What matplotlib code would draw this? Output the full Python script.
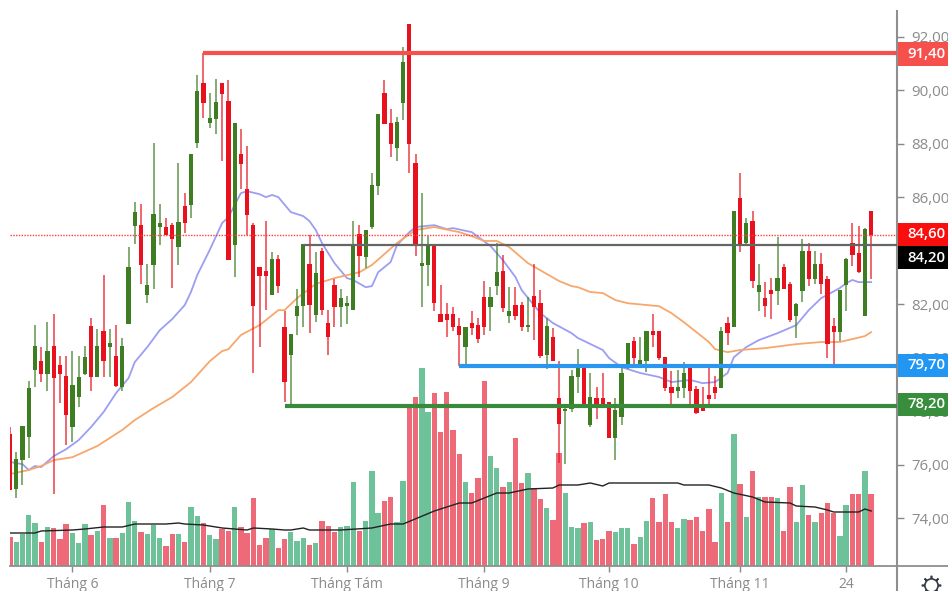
import matplotlib
matplotlib.use("Agg")
import matplotlib.pyplot as plt
from matplotlib.lines import Line2D
from matplotlib.patches import Rectangle
from matplotlib.ticker import FuncFormatter

highs = [77.41,76.47,77.45,79.13,81.22,80.40,81.33,81.63,80.06,80.06,
         80.25,80.06,80.44,81.48,81.07,83.09,81.07,81.22,80.74,84.14,
         85.82,85.75,83.50,88.03,85.75,85.22,85.04,87.28,86.16,87.62,
         90.57,91.40,89.90,90.42,90.27,90.39,88.78,88.55,87.92,85.04,
         83.39,85.11,83.95,83.84,81.75,80.89,82.57,84.25,84.59,83.95,
         84.10,81.78,82.94,82.57,82.31,85.11,84.96,84.78,86.91,89.12,
         90.39,89.30,89.00,91.62,92.48,87.62,86.16,84.55,84.25,82.72,
         82.04,81.90,81.48,81.15,81.75,81.48,82.87,82.64,84.29,83.84,
         82.64,82.64,82.08,82.27,83.50,82.53,81.48,81.11,79.87,78.23,
         79.54,80.32,79.65,79.43,78.90,79.43,78.34,78.49,79.65,80.55,
         80.77,80.77,81.00,81.63,81.00,80.02,79.50,79.54,79.84,79.65,
         78.94,78.90,79.73,79.31,81.15,81.52,85.49,86.91,85.22,85.49,
         83.50,82.83,82.98,84.51,83.50,82.83,82.04,84.44,84.29,83.99,
         83.92,83.05,81.48,82.53,83.73,85.04,84.93,84.85,85.49]
lows = [75.05,74.75,75.24,76.25,78.90,79.09,78.75,74.90,78.30,76.73,
        76.84,78.15,79.35,78.75,79.28,79.28,79.28,78.90,78.75,81.26,
        84.25,82.76,82.04,82.57,84.21,84.59,82.61,83.47,84.66,85.22,
        87.84,88.97,88.59,88.37,87.36,83.65,83.02,86.31,84.59,79.43,
        80.40,81.78,82.34,82.42,78.34,78.23,80.85,81.15,80.92,81.33,
        81.60,80.10,81.15,81.15,81.26,81.78,83.02,83.35,84.81,86.09,
        88.74,87.51,87.36,88.89,86.91,83.80,81.90,82.68,81.75,81.33,
        80.77,81.00,79.69,79.69,80.85,80.55,80.85,81.00,82.34,81.71,
        81.30,81.41,81.00,80.96,80.66,79.99,79.58,79.87,76.06,76.02,
        77.97,78.68,78.19,77.41,77.71,78.19,76.99,76.17,77.48,79.58,
        79.65,79.69,79.46,80.40,79.91,78.75,78.15,78.49,78.49,78.23,
        77.89,78.00,78.23,78.45,78.87,80.47,81.15,83.95,84.25,82.61,
        81.75,81.52,81.45,81.97,82.57,81.33,80.74,82.08,82.68,82.76,
        82.38,79.99,79.69,80.62,81.75,83.43,83.17,81.56,82.94]
opens = [77.14,75.09,76.17,77.03,79.54,79.87,79.39,80.44,79.73,79.31,
         77.41,78.53,79.39,81.18,79.28,81.00,80.40,80.06,78.90,81.26,
         84.93,84.96,82.34,83.47,84.89,84.89,84.96,84.14,85.67,85.71,
         88.03,90.27,88.78,88.93,90.27,89.60,84.21,87.62,86.31,84.96,
         83.39,83.24,82.34,83.69,81.15,80.10,81.56,81.93,83.50,81.60,
         83.99,81.30,82.72,81.90,81.93,81.78,84.63,83.77,84.89,86.42,
         89.90,88.78,87.84,89.53,92.48,87.28,83.43,83.47,84.25,81.63,
         81.63,81.63,81.18,80.40,81.30,81.22,82.27,81.90,82.68,83.24,
         81.56,81.97,81.97,81.15,82.31,82.04,80.10,80.77,78.49,78.00,
         78.08,79.28,79.65,77.48,78.49,78.49,78.34,76.99,77.78,79.61,
         80.62,79.76,79.87,81.00,81.00,80.02,78.90,78.75,78.87,79.65,
         78.83,78.23,78.60,78.90,78.87,81.30,81.15,85.97,84.29,85.11,
         82.46,82.23,82.53,82.49,83.39,82.76,81.56,82.49,83.99,82.94,
         83.50,82.94,81.18,80.96,82.72,84.29,83.92,81.56,85.49]
closes = [75.05,76.21,77.45,78.87,80.44,79.39,80.25,79.24,79.39,77.85,
          78.98,79.28,80.02,79.28,80.44,79.87,80.55,78.94,80.44,83.39,
          85.45,83.47,82.72,85.37,85.04,84.59,84.44,85.07,85.04,87.62,
          89.98,89.53,88.97,89.56,89.86,83.65,88.78,87.24,85.34,81.93,
          83.05,83.05,83.69,82.68,79.09,80.89,81.93,84.25,81.97,83.17,
          81.78,80.77,81.90,82.23,82.04,84.18,83.80,84.78,86.46,89.12,
          88.74,87.99,88.82,91.06,87.99,84.18,83.54,84.25,82.04,81.33,
          81.41,81.15,80.85,81.15,81.11,80.70,81.15,82.27,83.20,81.86,
          81.75,81.56,81.15,81.22,81.90,80.06,81.18,79.87,77.52,78.08,
          79.31,79.61,78.19,78.53,78.19,78.27,76.99,78.04,79.43,80.55,
          79.99,79.91,81.00,80.85,79.99,78.87,78.68,78.90,79.43,78.75,
          77.93,78.00,78.45,78.68,81.00,80.92,85.49,84.25,85.04,82.87,
          82.72,81.93,82.38,82.98,82.57,81.41,82.01,83.99,82.94,83.50,
          82.76,80.51,80.96,82.53,83.69,83.84,83.20,84.81,84.60]
volumes = [29,24,32,51,43,24,39,38,27,42,
           33,23,42,31,35,61,28,28,33,64,
           45,34,32,41,28,20,32,32,24,59,
           50,43,31,27,37,35,59,39,33,68,
           21,28,37,18,27,34,25,28,21,23,
           45,40,34,39,40,84,35,45,95,53,
           65,69,44,85,158,169,198,154,173,134,
           174,136,112,84,73,88,185,110,98,79,
           84,128,83,93,78,67,58,46,113,73,
           39,38,43,44,26,27,35,34,38,38,
           22,29,45,68,44,72,44,38,47,46,
           49,35,57,24,73,44,132,82,49,95,
           69,69,69,68,35,79,44,81,51,44,
           53,63,53,30,61,72,72,95,72]

ma_fast_idx = [0,2,3,4,5,7,9,11,13,15,17,19,20,22,24,26,28,29,30,32,34,35,37,38,40,41,42,43,45,47,48,49,50,52,54,55,57,58,59,61,62,64,65,68,70,71,74,77,79,81,82,85,87,90,91,95,96,98,101,104,106,109,111,113,115,116,118,120,123,126,128,130,133,134,135,136,138]
ma_fast = [76.10,76.02,75.80,75.95,75.91,76.32,76.58,76.92,77.41,77.97,78.68,79.24,79.84,80.40,81.03,81.45,81.97,82.46,83.09,84.03,85.04,85.26,86.16,86.23,86.12,86.01,86.09,86.01,85.45,85.30,85.11,84.78,84.29,83.54,82.98,82.91,82.64,82.68,83.20,83.58,84.21,84.70,84.89,84.96,84.81,84.85,84.70,84.18,83.65,83.02,82.53,81.67,81.30,80.92,80.74,80.29,79.99,79.65,79.43,79.28,79.09,79.17,79.05,79.09,79.43,80.02,80.40,80.66,80.92,81.22,81.78,82.23,82.61,82.79,82.91,82.83,82.83]
ma_slow_idx = [0,3,5,7,10,14,18,20,23,26,29,32,34,35,37,40,43,44,46,49,52,56,58,62,65,68,72,74,76,78,80,83,88,90,91,93,95,97,99,104,106,108,112,113,115,117,121,126,130,133,135,137,138]
ma_slow = [75.65,75.80,75.95,76.17,76.28,76.70,77.30,77.67,78.12,78.53,79.09,79.87,80.25,80.32,80.85,81.22,81.78,81.78,82.23,82.76,82.98,83.20,83.47,84.29,84.78,84.89,84.70,84.55,84.37,84.37,84.14,83.54,82.87,82.68,82.64,82.46,82.42,82.16,82.04,81.93,81.67,81.33,80.59,80.32,80.21,80.29,80.36,80.51,80.59,80.59,80.70,80.81,80.96]
vol_ma_idx = [0,4,5,10,12,15,18,20,25,27,28,31,34,38,39,42,44,45,47,48,53,58,61,63,68,72,74,78,80,83,87,88,91,93,95,96,107,108,112,114,116,119,121,125,126,129,131,132,136,137,138]
vol_ma = [33,33,35,36,37,39,39,42,42,43,42,41,38,36,38,37,36,36,38,36,36,38,42,42,55,63,63,73,73,77,78,81,81,83,80,83,83,81,81,78,73,69,64,63,60,59,56,54,54,57,55]

levels = [91.40, 84.60, 84.20, 79.70, 78.20]
level_labels = ["91,40", "84,60", "84,20", "79,70", "78,20"]
tick_prices = [74, 76, 78, 80, 82, 84, 86, 88, 90, 92]
month_idx = [10, 32, 54, 76, 96, 117, 134]
month_labels = ["Tháng 6", "Tháng 7", "Tháng Tám", "Tháng 9", "Tháng 10", "Tháng 11", "24"]

W, H = 948, 591
plt.rcParams['font.family'] = ['Open Sans', 'DejaVu Sans']
fig = plt.figure(figsize=(W/100, H/100), dpi=100, facecolor='white')
L, R, T, B = 10, 897, 11, 566
ax = fig.add_axes([L/W, 1-B/H, (R-L)/W, (B-T)/H])
ax2 = ax.twinx()
ax.set_zorder(2); ax.patch.set_visible(False); ax2.set_zorder(1)

RED, GREEN = '#e8121f', '#3f7d23'
VRED, VGREEN = '#ee6a78', '#6dc299'
n = len(closes)
xs = list(range(n))
cols = [GREEN if c >= o else RED for o, c in zip(opens, closes)]
vcols = [VGREEN if c >= o else VRED for o, c in zip(opens, closes)]

ax2.bar(xs, volumes, width=0.86, color=vcols, linewidth=0)
ax2.plot(vol_ma_idx, vol_ma, color='#222222', lw=1.0)
ax2.set_ylim(0, B-T)
ax2.axis('off')

ax.plot(ma_fast_idx, ma_fast, color='#9c9ef2', lw=1.3, zorder=2)
ax.plot(ma_slow_idx, ma_slow, color='#f8a76c', lw=1.3, zorder=2)
ax.vlines(xs, lows, highs, colors=cols, lw=1.2, alpha=0.75, zorder=3)
ax.bar(xs, [abs(c-o) for o, c in zip(opens, closes)],
       bottom=[min(o, c) for o, c in zip(opens, closes)],
       width=0.68, color=cols, linewidth=0, zorder=4)

ax.hlines(91.40, 31, 142.2, color='#f5504c', lw=3, zorder=5)
ax.hlines(79.70, 72, 142.2, color='#2a96f0', lw=3, zorder=5)
ax.hlines(78.20, 44, 142.2, color='#3a8a3c', lw=3, zorder=5)
ax.hlines(84.20, 47, 142.2, color='#666666', lw=1.6, zorder=5)
ax.axhline(84.60, color='#ff3b3b', lw=1.0, ls=(0, (1, 1)), zorder=5)

ax.set_xlim(0, (R-L)/6.24)
ax.set_ylim(93.384-0.03741*B, 93.384-0.03741*T)
ax2.set_xlim(ax.get_xlim())

ax.yaxis.tick_right()
ax.set_yticks(tick_prices)
ax.yaxis.set_major_formatter(FuncFormatter(lambda v, p: f"{v:.2f}".replace('.', ',')))
ax.set_xticks(month_idx)
ax.set_xticklabels(month_labels)
ax.tick_params(axis='y', length=5, width=1, color='#888888', labelcolor='#8a8a8a', labelsize=10.8, pad=5)
ax.tick_params(axis='x', length=4, width=1, color='#888888', labelcolor='#8a8a8a', labelsize=10, pad=4)
for s in ['top', 'left']:
    ax.spines[s].set_visible(False)
ax.spines['right'].set_color('#8f8f8f'); ax.spines['right'].set_linewidth(1.5)
ax.spines['bottom'].set_color('#8f8f8f'); ax.spines['bottom'].set_linewidth(1.3)


def fx(x): return x/W
def fy(y): return 1-y/H


fig.add_artist(Line2D([fx(R), fx(R)], [fy(B), fy(H)], color='#8f8f8f', lw=1.5))
fig.add_artist(Line2D([fx(R), fx(W)], [fy(B), fy(B)], color='#8f8f8f', lw=1.3))

label_colors = ['#f5504c', '#fa0d0d', '#000000', '#2196f3', '#388e3c']
label_centers = [54, 234.5, 257.5, 365, 404.5]
for txt, col, yc in zip(level_labels, label_colors, label_centers):
    fig.add_artist(Rectangle((fx(R+1), fy(yc+11.5)), (W-R-1)/W, 23/H, transform=fig.transFigure,
                             facecolor=col, edgecolor='none', zorder=10))
    fig.text(fx(926), fy(yc), txt, color='white', fontsize=10.8, fontweight='semibold',
             ha='center', va='center', zorder=11)

fig.add_artist(Line2D([fx(931)], [fy(585)], marker=(8, 2, 0), markersize=14, mew=1.2,
                      color='#333a45', transform=fig.transFigure))
fig.add_artist(Line2D([fx(931)], [fy(585)], marker='o', markersize=9.5, mew=1.2,
                      markerfacecolor='white', markeredgecolor='#333a45', transform=fig.transFigure))

fig.savefig('out.png', dpi=100)
